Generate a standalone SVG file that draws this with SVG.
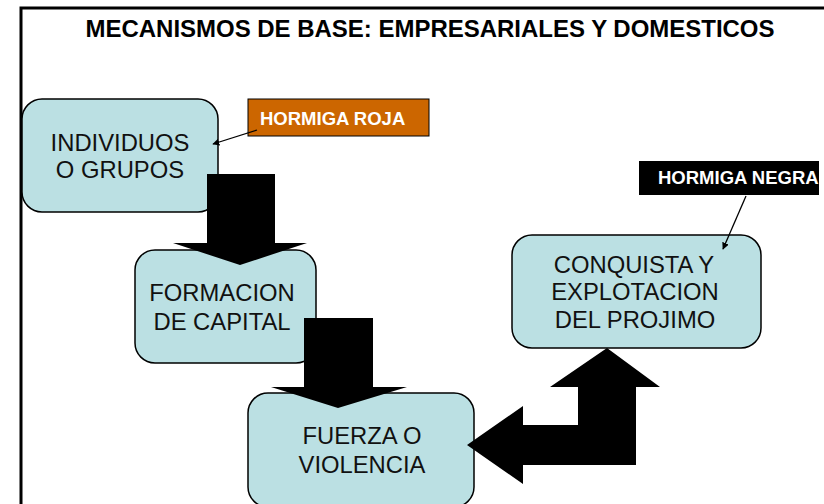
<svg xmlns="http://www.w3.org/2000/svg" width="824" height="504" viewBox="0 0 824 504">
<defs>
<style>
.box{fill:#bbe0e3;stroke:#000;stroke-width:1.5}
.t{font-family:"Liberation Sans",Arial,sans-serif;font-size:23.8px;fill:#111;text-anchor:middle}
.lbl{font-family:"Liberation Sans",Arial,sans-serif;font-weight:bold;font-size:18.5px;fill:#fff}
.big{fill:#000}
.thin{stroke:#000;stroke-width:1.3;fill:none;marker-end:url(#ah)}
</style>
<marker id="ah" viewBox="0 0 10 10" refX="9" refY="5" markerWidth="7" markerHeight="7" orient="auto" markerUnits="userSpaceOnUse">
<path d="M0,0 L10,5 L0,10 z" fill="#000"/>
</marker>
</defs>
<rect width="824" height="504" fill="#fff"/>
<path d="M21,504 V8 H824" fill="none" stroke="#000" stroke-width="3"/>
<text x="430" y="37" font-family="'Liberation Sans',Arial,sans-serif" font-weight="bold" font-size="24" text-anchor="middle" textLength="689" lengthAdjust="spacingAndGlyphs">MECANISMOS DE BASE: EMPRESARIALES Y DOMESTICOS</text>

<g id="node-individuos">
<rect class="box" x="22" y="99" width="196" height="113" rx="20"/>
<text class="t" x="120" y="151">INDIVIDUOS</text>
<text class="t" x="120" y="178">O GRUPOS</text>
</g>
<g id="node-formacion">
<rect class="box" x="135" y="250" width="181" height="113" rx="20"/>
<text class="t" x="222" y="301">FORMACION</text>
<text class="t" x="222" y="330">DE CAPITAL</text>
</g>
<g id="node-fuerza">
<rect class="box" x="248" y="393" width="226" height="114" rx="20"/>
<text class="t" x="362" y="444">FUERZA O</text>
<text class="t" x="362" y="473">VIOLENCIA</text>
</g>
<g id="node-conquista">
<rect class="box" x="512" y="235" width="249" height="113" rx="20"/>
<text class="t" x="634" y="273">CONQUISTA Y</text>
<text class="t" x="635" y="300">EXPLOTACION</text>
<text class="t" x="635" y="328">DEL PROJIMO</text>
</g>
<g id="label-roja">
<rect x="248" y="99" width="181" height="37" fill="#cc6600" stroke="#000" stroke-width="1"/>
<text class="lbl" x="260" y="125">HORMIGA ROJA</text>
</g>
<g id="label-negra">
<rect x="639" y="161" width="180" height="34" fill="#000"/>
<text class="lbl" x="658" y="184">HORMIGA NEGRA</text>
</g>

<g id="connectors">
<polygon class="big" points="207,174 275,174 275,243 307,243 240,265 173,243 207,243"/>
<polygon class="big" points="304,318 373,318 373,387 407,387 338,408 271,387 304,387"/>
<polygon class="big" points="607,348 660,387 636,387 636,465 523,465 523,484 467,445 523,406 523,425 578,425 578,387 550,387"/>
<line class="thin" x1="257" y1="130" x2="213" y2="144"/>
<line class="thin" x1="746" y1="196" x2="723" y2="249"/>
</g>
</svg>
